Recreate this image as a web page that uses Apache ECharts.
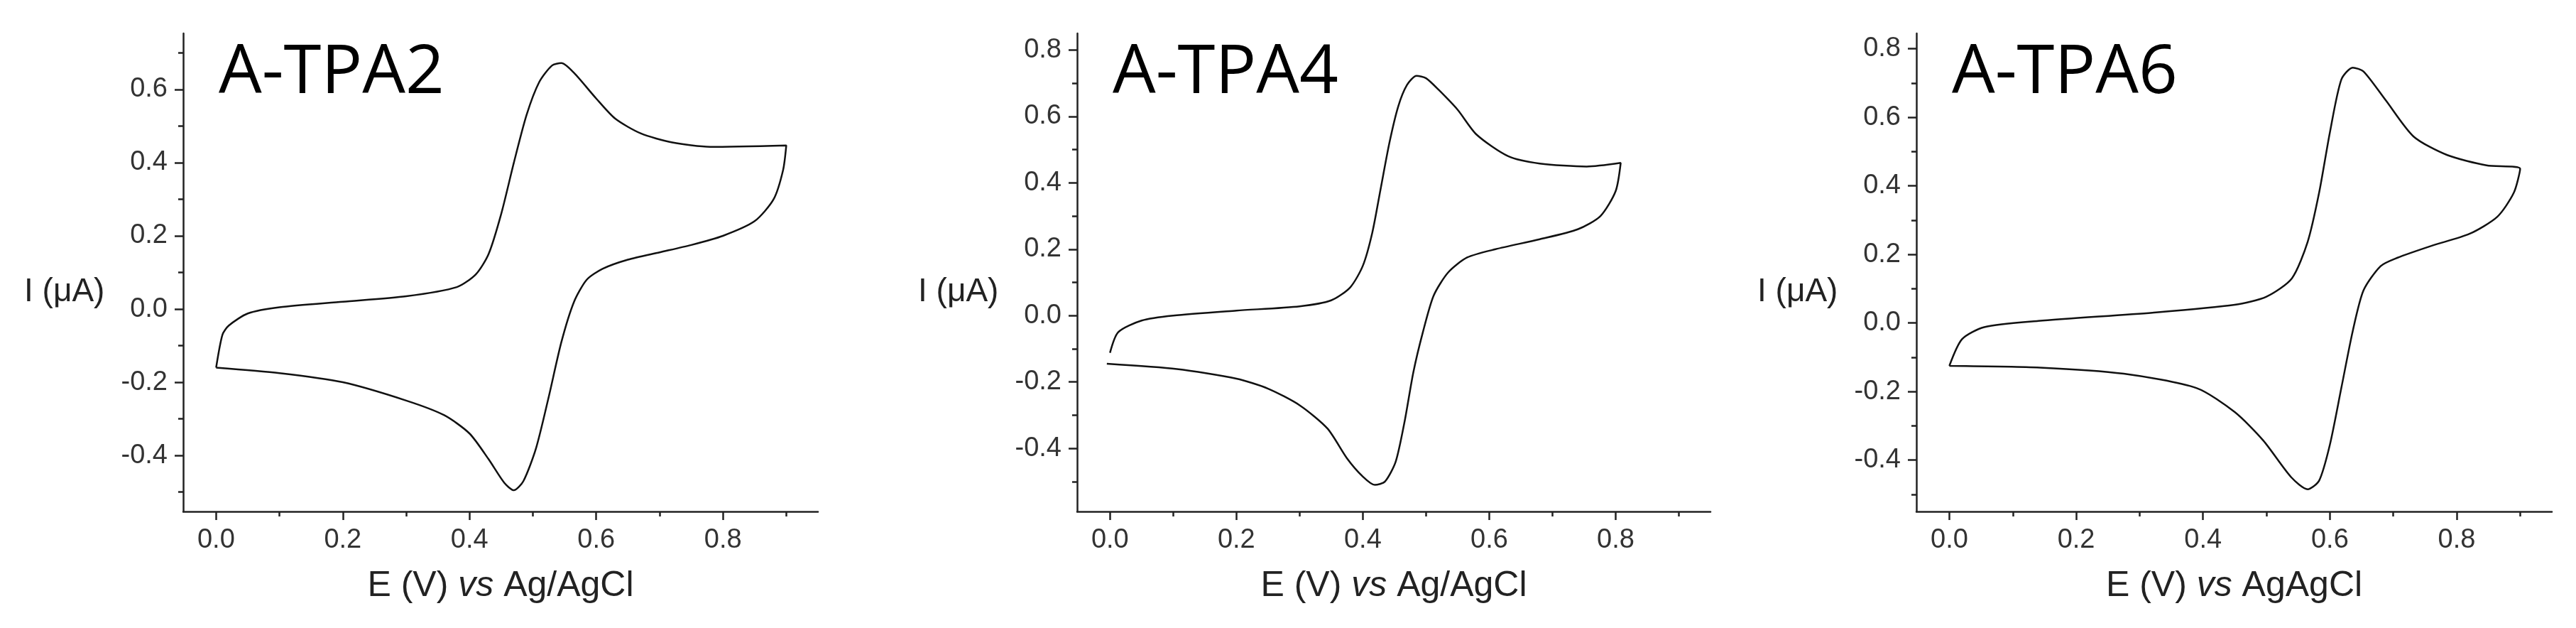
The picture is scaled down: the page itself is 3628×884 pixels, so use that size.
<!DOCTYPE html>
<html><head><meta charset="utf-8">
<script src="https://cdn.jsdelivr.net/npm/echarts@6/dist/echarts.min.js"></script>
<style>html,body{margin:0;padding:0;background:#fff}#c{width:3628px;height:884px}</style>
</head><body><div id="c"></div>
<script>
const titles = ['A-TPA2','A-TPA4','A-TPA6'];
const xNames = ['Ag/AgCl','Ag/AgCl','AgAgCl'];
const xTicks = [0,0.2,0.4,0.6,0.8];
const xMinor = [0.1,0.3,0.5,0.7,0.9];
const yTicks12 = [-0.4,-0.2,0,0.2,0.4,0.6];
const yTicks3 = [-0.4,-0.2,0,0.2,0.4,0.6,0.8];
const yMinor12 = [-0.5,-0.3,-0.1,0.1,0.3,0.5,0.7];
const yMinor3 = [-0.5,-0.3,-0.1,0.1,0.3,0.5,0.7];
const cv1 = [[0,-0.16],[0.01,-0.07],[0.02,-0.045],[0.05,-0.012],[0.1,0.005],[0.2,0.02],[0.3,0.035],[0.38,0.06],[0.41,0.095],[0.43,0.15],[0.45,0.26],[0.47,0.4],[0.49,0.53],[0.51,0.62],[0.53,0.665],[0.545,0.672],[0.565,0.645],[0.6,0.575],[0.63,0.52],[0.67,0.48],[0.72,0.455],[0.78,0.443],[0.9,0.447],
 [0.895,0.38],[0.88,0.3],[0.85,0.24],[0.8,0.2],[0.75,0.175],[0.7,0.155],[0.65,0.135],[0.61,0.11],[0.585,0.08],[0.565,0.02],[0.545,-0.09],[0.525,-0.24],[0.505,-0.38],[0.485,-0.47],[0.47,-0.495],[0.455,-0.475],[0.43,-0.41],[0.4,-0.34],[0.36,-0.29],[0.3,-0.25],[0.2,-0.2],[0.1,-0.175],[0,-0.16]];
const cv2 = [[0,-0.112],[0.013,-0.05],[0.05,-0.015],[0.1,0.0],[0.2,0.015],[0.3,0.028],[0.35,0.046],[0.38,0.085],[0.4,0.15],[0.415,0.25],[0.428,0.38],[0.442,0.52],[0.456,0.63],[0.47,0.695],[0.485,0.722],[0.5,0.715],[0.52,0.68],[0.55,0.62],[0.58,0.545],[0.63,0.48],[0.68,0.458],[0.754,0.449],[0.808,0.46],
 [0.8,0.375],[0.776,0.3],[0.74,0.26],[0.68,0.23],[0.61,0.2],[0.565,0.175],[0.535,0.13],[0.512,0.06],[0.495,-0.05],[0.48,-0.17],[0.466,-0.32],[0.452,-0.44],[0.435,-0.5],[0.419,-0.51],[0.4,-0.485],[0.375,-0.43],[0.344,-0.34],[0.3,-0.27],[0.25,-0.22],[0.2,-0.19],[0.106,-0.161],[-0.005,-0.145]];
const cv3 = [[0,-0.125],[0.02,-0.047],[0.055,-0.012],[0.14,0.006],[0.32,0.03],[0.45,0.053],[0.5,0.077],[0.54,0.13],[0.565,0.237],[0.583,0.38],[0.6,0.556],[0.618,0.71],[0.636,0.745],[0.653,0.734],[0.688,0.65],[0.732,0.544],[0.785,0.49],[0.847,0.46],[0.9,0.45],
 [0.89,0.38],[0.864,0.31],[0.82,0.26],[0.76,0.225],[0.706,0.19],[0.68,0.166],[0.653,0.095],[0.636,-0.024],[0.618,-0.19],[0.6,-0.355],[0.583,-0.46],[0.565,-0.485],[0.539,-0.45],[0.495,-0.343],[0.45,-0.26],[0.39,-0.19],[0.275,-0.148],[0.143,-0.13],[0,-0.125]];
const data = [cv1,cv2,cv3];
const yTicks = [yTicks12,yTicks3,yTicks3];
const yMinors = [yMinor12,yMinor3,yMinor3];
const yMin = [-0.553,-0.59,-0.55], yMax = [0.753,0.85,0.845];

const lefts = [258,1517,2699], widths = [894,892,895];
const grid=[],xAxis=[],yAxis=[],series=[],graphic=[];
const lf = 'Liberation Sans, Arial, sans-serif';
for(let i=0;i<3;i++){
  grid.push({left:lefts[i],top:47,width:widths[i],height:673});
  const axLine={show:true,onZero:false,lineStyle:{color:'#222',width:2.5}};
  const noLine={show:false,onZero:false};
  const fmt=v=>Number(v).toFixed(1);
  xAxis.push({type:'value',gridIndex:i,position:'bottom',min:-0.052,max:0.95,axisLine:axLine,splitLine:{show:false},
    axisTick:{show:true,length:12,customValues:xTicks,lineStyle:{color:'#222',width:2.5}},
    axisLabel:{customValues:xTicks,formatter:fmt,fontSize:38,color:'#333',fontFamily:lf,margin:22,hideOverlap:false}});
  xAxis.push({type:'value',gridIndex:i,position:'bottom',min:-0.052,max:0.95,axisLine:noLine,splitLine:{show:false},
    axisTick:{show:true,length:7,customValues:xMinor,lineStyle:{color:'#222',width:2.5}},axisLabel:{show:false}});
  yAxis.push({type:'value',gridIndex:i,position:'left',min:yMin[i],max:yMax[i],axisLine:axLine,splitLine:{show:false},
    axisTick:{show:true,length:12,customValues:yTicks[i],lineStyle:{color:'#222',width:2.5}},
    axisLabel:{customValues:yTicks[i],formatter:fmt,fontSize:38,color:'#333',fontFamily:lf,margin:22,hideOverlap:false}});
  yAxis.push({type:'value',gridIndex:i,position:'left',min:yMin[i],max:yMax[i],axisLine:noLine,splitLine:{show:false},
    axisTick:{show:true,length:7,customValues:yMinors[i],lineStyle:{color:'#222',width:2.5}},axisLabel:{show:false}});
  series.push({type:'line',xAxisIndex:2*i,yAxisIndex:2*i,data:data[i],showSymbol:false,smooth:0.25,
    lineStyle:{color:'#111',width:2.5},animation:false});
  graphic.push({type:'text',left:lefts[i]+50,top:56,style:{text:titles[i],fontSize:96,fontFamily:'Open Sans, Noto Sans, sans-serif',fill:'#000'}});
  graphic.push({type:'text',left:lefts[i]-224,top:388,style:{text:'I (\u03bcA)',fontSize:46,fontFamily:lf,fill:'#222'}});
  graphic.push({type:'text',x:lefts[i]+widths[i]/2,y:800,style:{align:'center',rich:{a:{fontSize:50,fontFamily:lf,fill:'#222'},b:{fontSize:50,fontFamily:lf,fontStyle:'italic',fill:'#222'}},
    text:'{a|E (V) }{b|vs}{a| '+xNames[i]+'}'}});
}
const chart=echarts.init(document.getElementById('c'));
chart.setOption({animation:false,grid,xAxis,yAxis,series,graphic});
</script></body></html>
